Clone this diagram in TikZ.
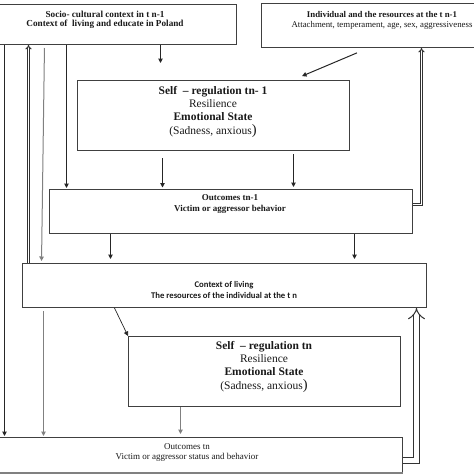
\documentclass[tikz,border=0pt]{standalone}
\usepackage{fontspec}
\setmainfont{Liberation Serif}
\newfontfamily\carl{Carlito}
\usetikzlibrary{arrows.meta}
\begin{document}
\begin{tikzpicture}[x=1pt,y=-1pt,
  box/.style={draw=black!75, line width=1pt, inner sep=0pt, rectangle},
  txt/.style={align=center, inner sep=0pt, text=black!90},
  arr/.style={draw=black!85, line width=1pt, -{Triangle[length=4.5pt,width=4.5pt]}},
  garr/.style={arr, draw=black!50},
  dbl/.style={draw=black!80, line width=1pt, double=white, double distance=1pt, -{Implies}},
  dblthick/.style={draw=black!80, line width=1pt, double=white, double distance=5pt, -{Implies}}]
\useasboundingbox (0,0) rectangle (474,474);
\clip (0,0) rectangle (474,474);
% boxes
\node[box, minimum width=267pt, minimum height=40pt] (boxA) at (103,24.5) {};
\node[box, minimum width=219pt, minimum height=44pt] (boxB) at (371,25.5) {};
\node[box, minimum width=272pt, minimum height=70pt] (boxC) at (213.5,115.5) {};
\node[box, minimum width=363pt, minimum height=44pt] (boxD) at (231,211.5) {};
\node[box, minimum width=404pt, minimum height=44pt] (boxE) at (224.5,285.5) {};
\node[box, minimum width=272pt, minimum height=70pt] (boxG) at (264.5,371.5) {};
\node[box, minimum width=433pt, minimum height=35pt] (boxF) at (186,455) {};
\draw[black!50, line width=1.5pt] (boxF.south west) -- (boxF.south east);
% texts
\node[txt, font=\bfseries\fontsize{9.2}{9.5}\selectfont] (tA) at (105,20)
  {Socio- cultural context in t n-1\\Context of\ \ living and educate in Poland};
\node[txt, font=\fontsize{8.8}{10}\selectfont] (tB) at (382,20)
  {\textbf{Individual and the resources at the t n-1}\\Attachment, temperament, age, sex, aggressiveness};
\node[txt, font=\fontsize{11.5}{13}\selectfont] (tC) at (213,112)
  {\textbf{Self\enspace– regulation tn- 1}\\Resilience\\\textbf{Emotional State}\\[1.5pt](Sadness, anxious{\fontsize{14.5}{13}\selectfont)}};
\node[txt, font=\bfseries\fontsize{9}{11}\selectfont] (tD) at (230,204.5)
  {Outcomes tn-1\\Victim or aggressor behavior};
\node[txt, font=\carl\bfseries\fontsize{8.7}{11.4}\selectfont] (tE) at (224,290)
  {Context of living\\The resources of the individual at the t n};
\node[txt, font=\fontsize{11.5}{13}\selectfont] (tG) at (264,367)
  {\textbf{Self\enspace– regulation tn}\\Resilience\\\textbf{Emotional State}\\[1.5pt](Sadness, anxious{\fontsize{14.5}{13}\selectfont)}};
\node[txt, font=\fontsize{9}{10}\selectfont] (tF) at (187,452)
  {Outcomes tn\\Victim or aggressor status and behavior};
% helper coordinates
\coordinate (xa) at (160.5,0);
\coordinate (xb1) at (368.5,0);
\coordinate (xb2) at (292.8,0);
\coordinate (xc) at (162.5,0);
\coordinate (xd) at (293.5,0);
\coordinate (xe) at (66.5,0);
\coordinate (xf) at (110.5,0);
\coordinate (xg) at (354.5,0);
\coordinate (xh) at (4.5,0);
\coordinate (xdbl) at (28.5,0);
\coordinate (xj1) at (44.5,0);
\coordinate (xj2) at (41.5,0);
\coordinate (xk) at (43.5,0);
\coordinate (xl) at (114.5,0);
\coordinate (xm) at (180.5,0);
\coordinate (xn) at (421.5,0);
\coordinate (yn) at (0,204.5);
\coordinate (xo) at (416.5,0);
\coordinate (yo) at (0,460.5);
% connectors
\draw[arr, shorten >=17pt] (boxA.south -| xa) -- (boxC.north -| xa);
\draw[arr, shorten <=12.5pt, shorten >=10pt] (boxB.south -| xb1) -- (boxC.north -| xb2);
\draw[arr, shorten <=7pt, shorten >=1.5pt] (boxC.south -| xc) -- (boxD.north -| xc);
\draw[arr, shorten <=3pt, shorten >=2pt] (boxC.south -| xd) -- (boxD.north -| xd);
\draw[arr, shorten >=1pt] (boxA.south -| xe) -- (boxD.north -| xe);
\draw[arr, shorten >=4pt] (boxD.south -| xf) -- (boxE.north -| xf);
\draw[arr, shorten >=4pt] (boxD.south -| xg) -- (boxE.north -| xg);
\draw[arr, shorten >=1pt] (boxA.south -| xh) -- (boxF.north -| xh);
\draw[dbl] (boxE.north -| xdbl) -- (boxA.south -| xdbl);
\draw[garr, shorten <=3pt, shorten >=2pt] (boxA.south -| xj1) -- (boxE.north -| xj2);
\draw[garr, shorten <=3pt, shorten >=1pt] (boxE.south -| xk) -- (boxF.north -| xk);
\draw[arr, line width=0.7pt] (boxE.south -| xl) -- (boxG.north west);
\draw[garr, shorten >=3pt] (boxG.south -| xm) -- (boxF.north -| xm);
\draw[dbl] (boxD.east |- yn) -| (boxB.south -| xn);
\draw[dblthick] (boxF.east |- yo) -| (boxE.south -| xo);
\end{tikzpicture}
\end{document}
